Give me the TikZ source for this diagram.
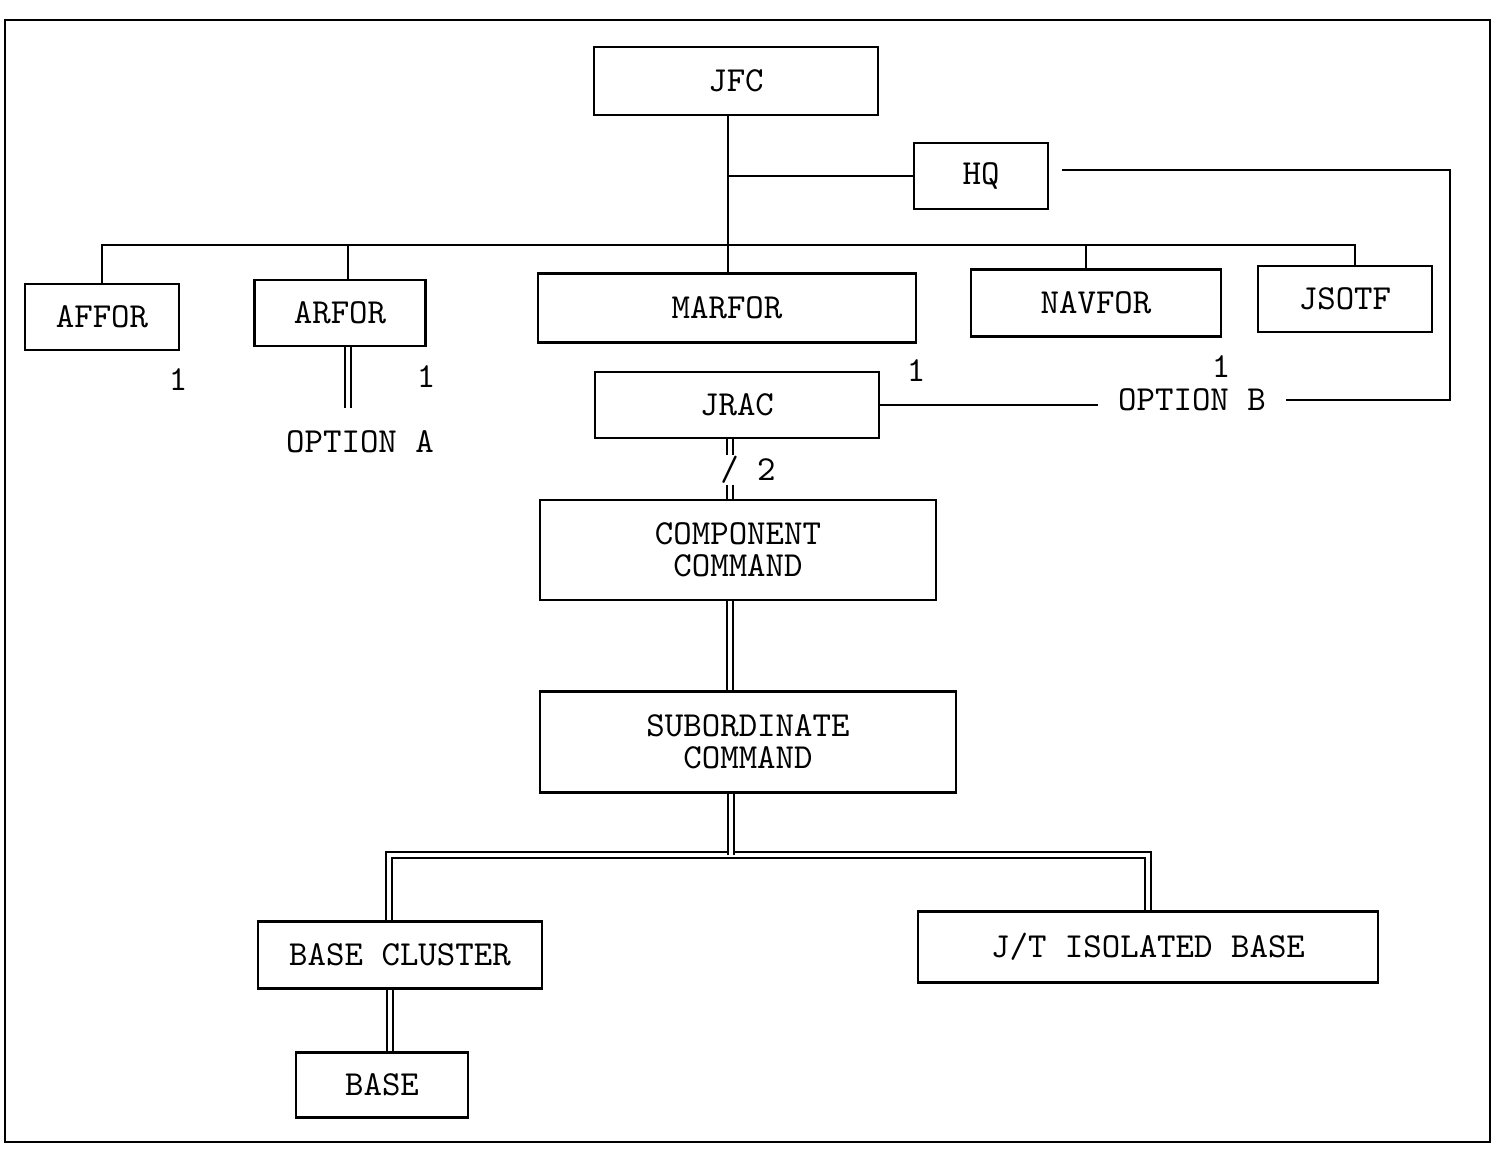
\documentclass[tikz,border=0pt]{standalone}
\usetikzlibrary{positioning}
\begin{document}
\begin{tikzpicture}[x=0.01cm, y=-0.01cm, line width=0.6pt, font=\ttfamily\fontsize{10}{9.2}\selectfont]
        \tikzstyle{box}=[draw, inner sep=2pt, align=center]
        \tikzstyle{dbl}=[double, double distance=1.2pt, line width=0.45pt]
        \tikzstyle{tag}=[inner sep=2pt]
        \useasboundingbox (0,0) rectangle (1496,1149);
        \draw[line width=0.7pt] (5,20) rectangle (1490,1142);
        % boxes
        \node[box, minimum width=2.84cm, minimum height=0.68cm] (JFC)    at (736,81)   {JFC};
        \node[box, minimum width=1.34cm, minimum height=0.66cm] (HQ)     at (981,176)  {HQ};
        \node[box, minimum width=1.54cm, minimum height=0.66cm] (AFFOR)  at (102,317)  {AFFOR};
        \node[box, minimum width=1.71cm, minimum height=0.66cm] (ARFOR)  at (340,313)  {ARFOR};
        \node[box, minimum width=3.77cm, minimum height=0.69cm] (MARFOR) at (727,308)  {MARFOR};
        \node[box, minimum width=2.50cm, minimum height=0.67cm] (NAVFOR) at (1096,303) {NAVFOR};
        \node[box, minimum width=1.74cm, minimum height=0.66cm] (JSOTF)  at (1345,299) {JSOTF};
        \node[box, minimum width=2.84cm, minimum height=0.66cm] (JRAC)   at (737,405)  {JRAC};
        \node[box, minimum width=3.96cm, minimum height=1.00cm] (COMP)   at (738,550)  {COMPONENT\\COMMAND};
        \node[box, minimum width=4.15cm, minimum height=1.01cm] (SUB)    at (748,742)  {SUBORDINATE\\COMMAND};
        \node[box, minimum width=2.84cm, minimum height=0.67cm] (BC)     at (400,955)  {BASE CLUSTER};
        \node[box, minimum width=4.60cm, minimum height=0.71cm] (JT)     at (1148,947) {J/T ISOLATED BASE};
        \node[box, minimum width=1.72cm, minimum height=0.65cm] (BASE)   at (382,1085) {BASE};
        % labels
        \node[tag] (n_aff)  at (178,380)  {1};
        \node[tag] (n_arf)  at (426,377)  {1};
        \node[tag] (n_mar)  at (916,371)  {1};
        \node[tag] (n_nav)  at (1221,367) {1};
        \node[tag] (optA)   at (360,442)  {OPTION A};
        \node[tag, inner sep=5.5pt] (optB) at (1192,400) {OPTION B};
        \node[tag] (two)    at (748,470)  {/ 2};
        % helper points
        \coordinate (trunk)  at (728,176);
        \coordinate (bus)    at (728,245);
        \coordinate (armA)   at (348,408);
        \coordinate (colN)   at (1086,0);
        \coordinate (colJ)   at (1355,0);
        \coordinate (hqtail) at (1062,170);
        \coordinate (loopc)  at (1450,170);
        \coordinate (spine)  at (730,0);
        \coordinate (slashT) at (730,455);
        \coordinate (slashB) at (730,485);
        \coordinate (bus2)   at (731,855);
        \coordinate (colBC)  at (389,0);
        \coordinate (colB)   at (390,0);
        % connectors
        \draw (JFC.south -| trunk) -- (MARFOR.north -| trunk);
        \draw (trunk) -- (HQ.west);
        \draw (AFFOR.north) |- (colJ |- bus) -- (JSOTF.north -| colJ);
        \draw (ARFOR.north -| armA) -- (armA |- bus);
        \draw (NAVFOR.north -| colN) -- (colN |- bus);
        \draw[dbl] (ARFOR.south -| armA) -- (armA);
        \draw (JRAC.east) -- (JRAC.east -| optB.west);
        \draw (optB.east) -| (loopc) -- (hqtail);
        \draw[dbl] (JRAC.south -| spine) -- (slashT);
        \draw[dbl] (slashB) -- (COMP.north -| spine);
        \draw[dbl] (COMP.south -| spine) -- (SUB.north -| spine);
        \draw[dbl] (BC.north -| colBC) |- (JT.north |- bus2) -- (JT.north);
        \draw[dbl] (SUB.south -| bus2) -- (bus2);
        \draw[dbl] (BC.south -| colB) -- (BASE.north -| colB);
\end{tikzpicture}
\end{document}
